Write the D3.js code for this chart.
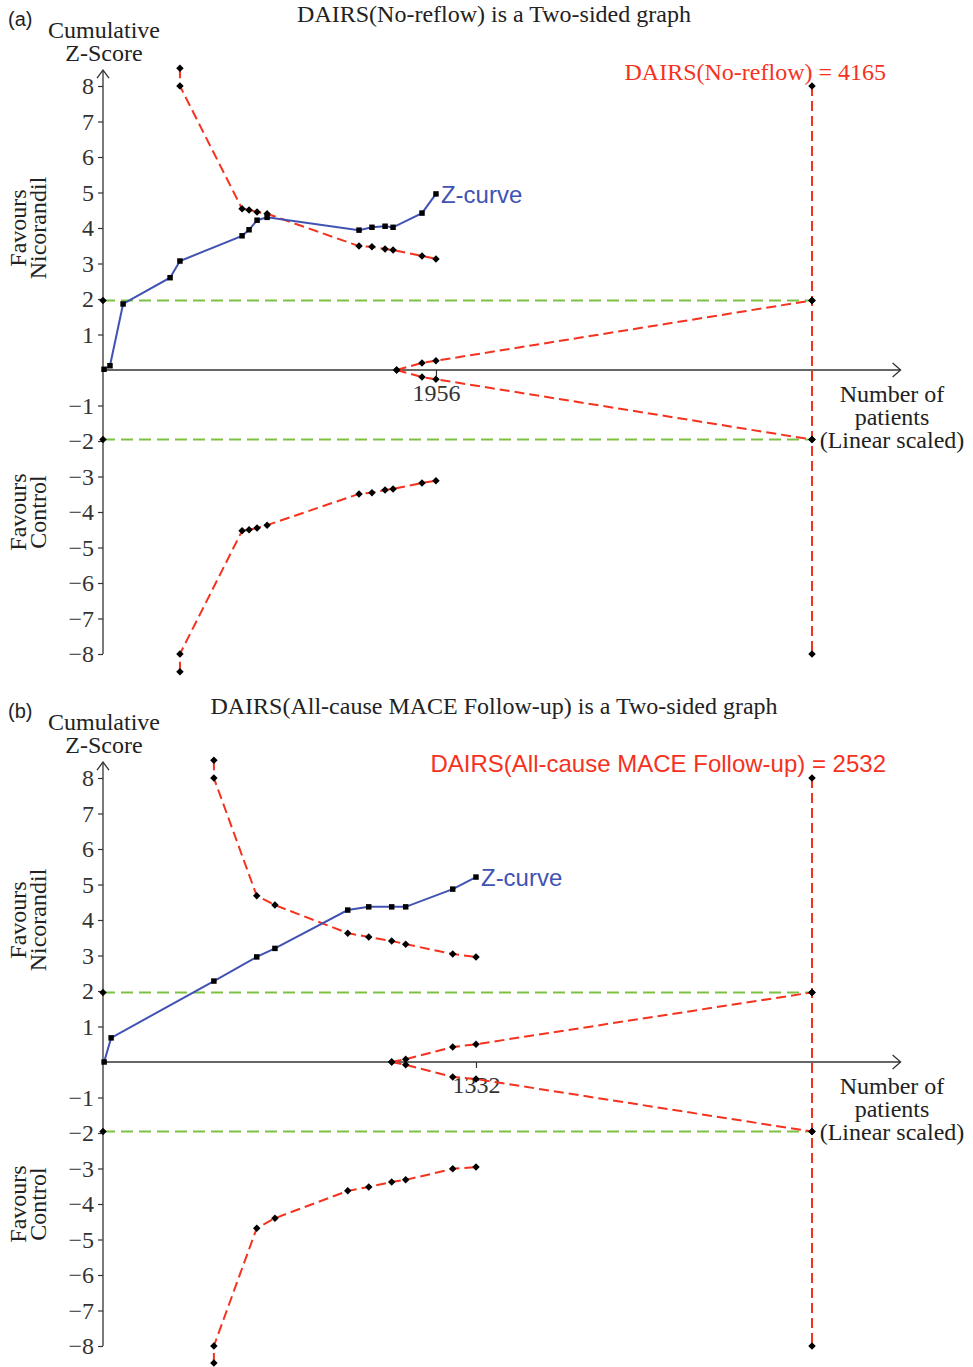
<!DOCTYPE html>
<html>
<head>
<meta charset="utf-8">
<script src="https://cdn.jsdelivr.net/npm/d3@7"></script>
<style>
  body { margin: 0; background: #fff; }
  svg { display: block; }
  .serif { font-family: "Liberation Serif", "Times New Roman", serif; fill: #222; }
  .sans { font-family: "Liberation Sans", Arial, sans-serif; fill: #222; }
  .tick text { font-family: "Liberation Serif", "Times New Roman", serif; font-size: 24px; fill: #333; }
  .tick line { stroke: #333; stroke-width: 1.2; }
</style>
</head>
<body>
<div id="chart"></div>
<script>
// Panel (a): No-reflow, sample sizes and cumulative Z values
const risA = 4165;
const tickA = [1956];
const zCurveA_n = [6, 41, 118, 394, 452, 817, 858, 905, 964, 1504, 1580, 1657, 1704, 1874, 1956];
const zCurveA_z = [0.02, 0.12, 1.86, 2.6, 3.07, 3.78, 3.95, 4.22, 4.3, 3.94, 4.02, 4.05, 4.02, 4.42, 4.96];
const boundA_n = [452, 452, 817, 858, 905, 964, 1504, 1580, 1657, 1704, 1874, 1956];
const boundA_up = [8.5, 8.0, 4.54, 4.51, 4.45, 4.4, 3.49, 3.47, 3.41, 3.38, 3.21, 3.13];
const boundA_lo = [-8.5, -8.0, -4.53, -4.5, -4.45, -4.37, -3.49, -3.46, -3.38, -3.35, -3.18, -3.12];
const futA_n = [1725, 1874, 1956, 4165];
const futA_up = [0, 0.2, 0.26, 1.96];
const futA_lo = [0, -0.2, -0.26, -1.96];

// Panel (b): All-cause MACE follow-up
const risB = 2532;
const tickB = [1332];
const zCurveB_n = [4, 29, 396, 549, 614, 874, 949, 1031, 1081, 1249, 1332];
const zCurveB_z = [0.0, 0.68, 2.28, 2.96, 3.2, 4.28, 4.37, 4.37, 4.37, 4.87, 5.21];
const boundB_n = [396, 396, 549, 614, 874, 949, 1031, 1081, 1249, 1332];
const boundB_up = [8.5, 8.0, 4.68, 4.42, 3.63, 3.52, 3.41, 3.32, 3.04, 2.96];
const boundB_lo = [-8.48, -8.0, -4.68, -4.4, -3.63, -3.52, -3.38, -3.32, -3.01, -2.96];
const futB_n = [1031, 1081, 1249, 1332, 2532];
const futB_up = [0, 0.08, 0.42, 0.5, 1.96];
const futB_lo = [0, -0.08, -0.42, -0.48, -1.96];

// Y axis ticks and the conventional boundary
const yTicks = [-8, -7, -6, -5, -4, -3, -2, -1, 1, 2, 3, 4, 5, 6, 7, 8];
const conventionalZ = 1.96;

const BLUE = "#4152b3";
const RED = "#f5321e";
const GREEN = "#7cc242";

const width = 973, height = 1367;

const svg = d3.select("#chart").append("svg")
    .attr("width", width)
    .attr("height", height);

const zip = (ns, zs) => ns.map((n, i) => ({ n: n, z: zs[i] }));

const panels = [
    {
        tag: "(a)", y0: 370,
        title: "DAIRS(No-reflow) is a Two-sided graph",
        risText: "DAIRS(No-reflow) = 4165", risSans: false,
        ris: risA, ticks: tickA,
        zc: zip(zCurveA_n, zCurveA_z),
        up: zip(boundA_n, boundA_up), lo: zip(boundA_n, boundA_lo),
        fup: zip(futA_n, futA_up), flo: zip(futA_n, futA_lo)
    },
    {
        tag: "(b)", y0: 1062,
        title: "DAIRS(All-cause MACE Follow-up) is a Two-sided graph",
        risText: "DAIRS(All-cause MACE Follow-up) = 2532", risSans: true,
        ris: risB, ticks: tickB,
        zc: zip(zCurveB_n, zCurveB_z),
        up: zip(boundB_n, boundB_up), lo: zip(boundB_n, boundB_lo),
        fup: zip(futB_n, futB_up), flo: zip(futB_n, futB_lo)
    }
];

panels.forEach(p => {
    const g = svg.append("g");
    const x = d3.scaleLinear().domain([0, p.ris]).range([103, 812]);
    const y = d3.scaleLinear().domain([-8, 8]).range([p.y0 + 8 * 35.5, p.y0 - 8 * 35.5]);
    const line = d3.line().x(d => x(d.n)).y(d => y(d.z));

    // panel tag and title
    g.append("text").attr("class", "sans").attr("x", 8).attr("y", p.y0 - 344)
        .style("font-size", "20px").text(p.tag);
    g.append("text").attr("class", "serif").attr("x", 494).attr("y", p.y0 - 348)
        .attr("text-anchor", "middle").style("font-size", "24px").text(p.title);

    // y axis title
    g.append("text").attr("class", "serif").attr("x", 104).attr("y", p.y0 - 332)
        .attr("text-anchor", "middle").style("font-size", "24px").text("Cumulative");
    g.append("text").attr("class", "serif").attr("x", 104).attr("y", p.y0 - 309)
        .attr("text-anchor", "middle").style("font-size", "24px").text("Z-Score");

    // side labels (rotated)
    [[y(4), "Nicorandil"], [y(-4), "Control"]].forEach(([cy, word]) => {
        const t = g.append("text").attr("class", "serif")
            .attr("transform", `translate(0, ${cy}) rotate(-90)`)
            .attr("text-anchor", "middle").style("font-size", "24px");
        t.append("tspan").attr("x", 0).attr("y", 26).text("Favours");
        t.append("tspan").attr("x", 0).attr("y", 46).text(word);
    });

    // conventional boundaries (green)
    [conventionalZ, -conventionalZ].forEach(v => {
        g.append("path")
            .attr("d", line([{ n: 0, z: v }, { n: p.ris, z: v }]))
            .attr("fill", "none").attr("stroke", GREEN).attr("stroke-width", 2)
            .attr("stroke-dasharray", "12,6");
    });

    // y axis
    const yAxis = g.append("g").attr("transform", "translate(103,0)")
        .call(d3.axisLeft(y).tickValues(yTicks).tickSize(5).tickPadding(4)
            .tickFormat(d => d < 0 ? "\u2212" + Math.abs(d) : d));
    yAxis.select(".domain").remove();
    const yTop = y(8.45);
    g.append("line").attr("x1", 103).attr("x2", 103).attr("y1", y(-8)).attr("y2", yTop)
        .attr("stroke", "#333").attr("stroke-width", 1.3);
    g.append("path").attr("d", `M97,${yTop + 8}L103,${yTop}L109,${yTop + 8}`)
        .attr("fill", "none").attr("stroke", "#333").attr("stroke-width", 1.3);

    // x axis
    const xEnd = x(p.ris * 1.125);
    const xAxis = g.append("g").attr("transform", `translate(0,${p.y0})`)
        .call(d3.axisBottom(x).tickValues(p.ticks).tickSize(6).tickPadding(8)
            .tickFormat(d3.format("d")));
    xAxis.select(".domain").remove();
    g.append("line").attr("x1", 103).attr("x2", xEnd).attr("y1", p.y0).attr("y2", p.y0)
        .attr("stroke", "#333").attr("stroke-width", 1.3);
    g.append("path").attr("d", `M${xEnd - 8},${p.y0 - 7}L${xEnd},${p.y0}L${xEnd - 8},${p.y0 + 7}`)
        .attr("fill", "none").attr("stroke", "#333").attr("stroke-width", 1.3);

    ["Number of", "patients", "(Linear scaled)"].forEach((s, i) => {
        g.append("text").attr("class", "serif").attr("x", 892).attr("y", p.y0 + 32 + i * 23)
            .attr("text-anchor", "middle").style("font-size", "24px").text(s);
    });

    // RIS vertical line
    const risLine = [{ n: p.ris, z: 8 }, { n: p.ris, z: conventionalZ }, { n: p.ris, z: -conventionalZ }, { n: p.ris, z: -8 }];
    g.append("path").attr("d", line([risLine[0], risLine[3]]))
        .attr("fill", "none").attr("stroke", RED).attr("stroke-width", 2)
        .attr("stroke-dasharray", "10,5");

    // boundaries and futility wedge (red dashed)
    [p.up, p.lo, p.fup, p.flo].forEach(s => {
        g.append("path").attr("d", line(s))
            .attr("fill", "none").attr("stroke", RED).attr("stroke-width", 2)
            .attr("stroke-dasharray", "10,5");
    });

    // Z-curve
    g.append("path").attr("d", line(p.zc))
        .attr("fill", "none").attr("stroke", BLUE).attr("stroke-width", 2);

    // diamond markers (rotated squares)
    const diamonds = [].concat(p.up, p.lo, p.fup, p.flo, risLine,
        [{ n: 0, z: conventionalZ }, { n: 0, z: -conventionalZ }]);
    g.selectAll(".dm").data(diamonds).join("path")
        .attr("class", "dm")
        .attr("transform", d => `translate(${x(d.n)},${y(d.z)}) rotate(45)`)
        .attr("d", d3.symbol(d3.symbolSquare, 28))
        .attr("fill", "#000");

    // square markers
    g.selectAll(".sq").data(p.zc).join("path")
        .attr("class", "sq")
        .attr("transform", d => `translate(${x(d.n)},${y(d.z)})`)
        .attr("d", d3.symbol(d3.symbolSquare, 30))
        .attr("fill", "#000");

    // Z-curve label
    const last = p.zc[p.zc.length - 1];
    g.append("text").attr("class", "sans")
        .attr("x", x(last.n) + 5).attr("y", y(last.z)).attr("dy", "0.36em")
        .style("font-size", "24px").style("fill", BLUE).text("Z-curve");

    // RIS label
    g.append("text").attr("class", p.risSans ? "sans" : "serif")
        .attr("x", 886).attr("y", p.y0 - 290)
        .attr("text-anchor", "end")
        .style("font-size", "24px")
        .style("fill", RED).text(p.risText);
});
</script>
</body>
</html>
